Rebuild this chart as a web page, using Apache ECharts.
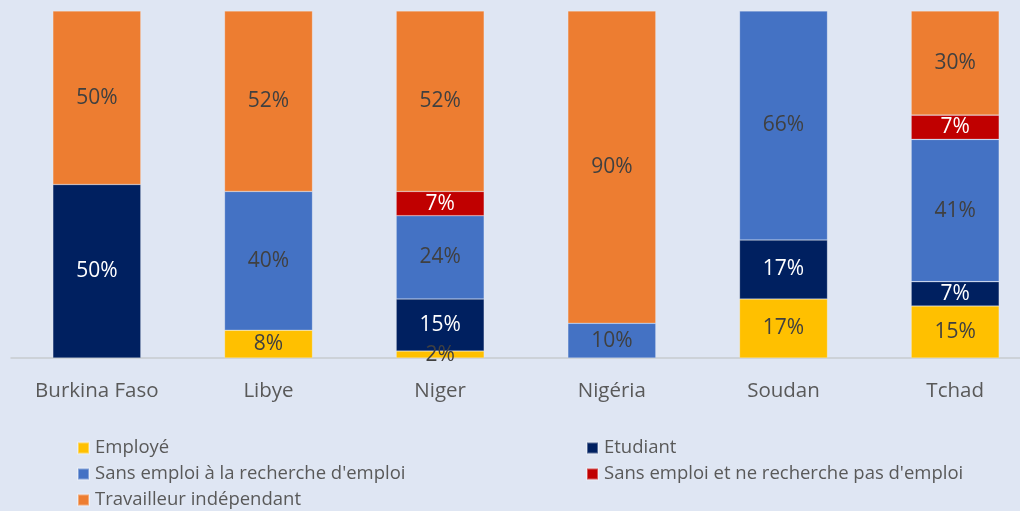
<!DOCTYPE html>
<html>
<head>
<meta charset="utf-8">
<script src="https://cdn.jsdelivr.net/npm/echarts@6/dist/echarts.min.js"></script>
<style>
  html, body { margin: 0; padding: 0; background: #dfe6f3; }
  #chart { width: 1020px; height: 511px; }
</style>
</head>
<body>
<div id="chart"></div>
<script>
var countries = ['Burkina Faso', 'Libye', 'Niger', 'Nigéria', 'Soudan', 'Tchad'];

// pourcentages par statut (null = pas de segment)
var employe     = [null, 8, 2, null, 17, 15];
var etudiant    = [50, null, 15, null, 17, 7];
var sansRech    = [null, 40, 24, 10, 66, 41];
var sansNonRech = [null, null, 7, null, null, 7];
var travailleur = [50, 52, 52, 90, null, 30];

var chart = echarts.init(document.getElementById('chart'));

function serie(name, data, color, labelColor) {
  return {
    name: name,
    type: 'bar',
    stack: 'total',
    barWidth: 88,
    data: data,
    itemStyle: { color: color, borderColor: 'rgba(255,255,255,0.35)', borderWidth: 0.6 },
    label: {
      show: true,
      position: 'inside',
      formatter: '{c}%',
      color: labelColor,
      fontSize: 21,
      fontFamily: 'Open Sans'
    }
  };
}

// une légende par entrée, placée comme dans l'original (2 colonnes)
function leg(name, left, centerY) {
  return {
    left: left, top: centerY - 11, padding: 0,
    itemWidth: 11, itemHeight: 11, icon: 'rect', itemGap: 0,
    textStyle: { color: '#595959', fontSize: 18.5, lineHeight: 22, fontFamily: 'Open Sans', padding: [0, 0, 0, 1] },
    data: [name]
  };
}

var option = {
  backgroundColor: '#dfe6f3',
  animation: false,
  grid: { left: 11, top: 11, width: 1030, height: 347, outerBoundsMode: 'none' },
  xAxis: {
    type: 'category',
    data: countries,
    axisLine: { lineStyle: { color: '#c8cbd0', width: 1.5 } },
    axisTick: { show: false },
    axisLabel: { color: '#595959', fontSize: 20.5, fontFamily: 'Open Sans', margin: 23 }
  },
  yAxis: { type: 'value', min: 0, max: 100, show: false, splitLine: { show: false } },
  legend: [
    leg('Employé', 77, 448),
    leg("Sans emploi à la recherche d'emploi", 77, 474),
    leg('Travailleur indépendant', 77, 500),
    leg('Etudiant', 586, 448),
    leg("Sans emploi et ne recherche pas d'emploi", 586, 474)
  ],
  series: [
    serie('Employé', employe, '#FFC000', '#404040'),
    serie('Etudiant', etudiant, '#002060', '#ffffff'),
    serie("Sans emploi à la recherche d'emploi", sansRech, '#4472C4', '#404040'),
    serie("Sans emploi et ne recherche pas d'emploi", sansNonRech, '#C00000', '#ffffff'),
    serie('Travailleur indépendant', travailleur, '#ED7D31', '#404040')
  ]
};
chart.setOption(option);
</script>
</body>
</html>
